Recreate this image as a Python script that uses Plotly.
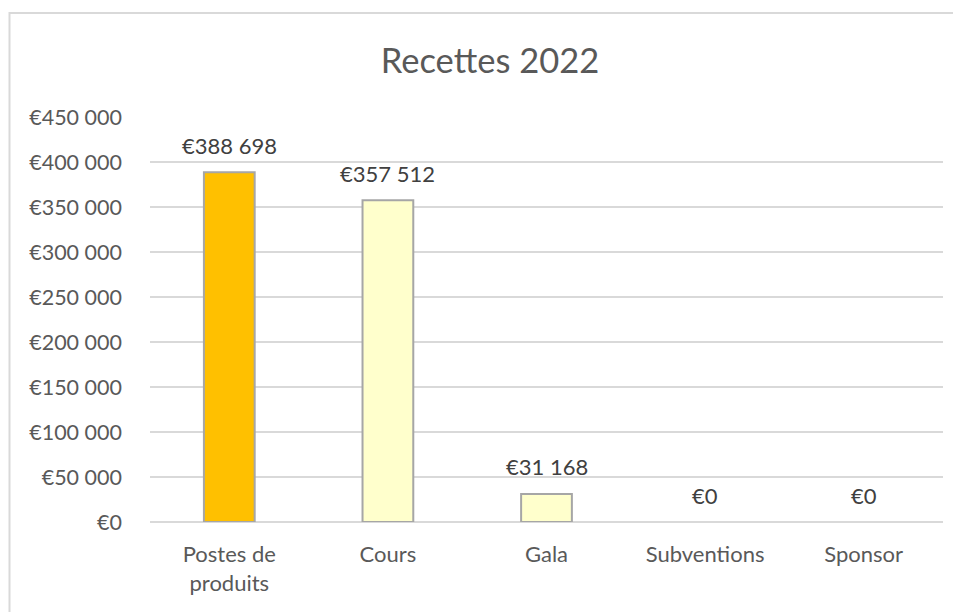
import plotly.graph_objects as go

categories = ["Postes de<br>produits", "Cours", "Gala", "Subventions", "Sponsor"]
values = [388698, 357512, 31168, 0, 0]
bar_colors = ["#FFC000", "#FFFFCC", "#FFFFCC", "#FFFFCC", "#FFFFCC"]
value_labels = ["€388 698", "€357 512", "€31 168", "€0", "€0"]
tick_vals = [0, 50000, 100000, 150000, 200000, 250000, 300000, 350000, 400000, 450000]
tick_text = ["€0", "€50 000", "€100 000", "€150 000", "€200 000", "€250 000",
             "€300 000", "€350 000", "€400 000", "€450 000"]
title_text = "Recettes 2022"

FONT = "Lato"
OFF = 8  # page body margin offset

L, R_EDGE, TOP, AXIS = 150 - OFF, 943 - OFF, 117 - OFF, 522 - OFF
W, H = 961, 612
PW = R_EDGE - L
PH = AXIS - TOP

fig = go.Figure()
fig.add_trace(go.Bar(
    x=categories, y=values,
    marker=dict(color=bar_colors,
                line=dict(color="#A6A6A6", width=[2 if v > 0 else 0 for v in values])),
    hoverinfo="skip",
))

for c, v, t in zip(categories, values, value_labels):
    fig.add_annotation(x=c, y=v, text=t, showarrow=False, yanchor="middle",
                       yshift=27, font=dict(family=FONT, size=22, color="#404040"))

fig.add_shape(type="rect", xref="paper", yref="paper",
              x0=(1.5 - L) / PW, x1=(990 - L) / PW,
              y0=-0.5, y1=(AXIS - (13 - OFF)) / PH,
              line=dict(color="#D9D9D9", width=2), fillcolor="rgba(0,0,0,0)", layer="below")

fig.update_layout(
    width=W, height=H,
    margin=dict(l=L, r=W - R_EDGE, t=TOP, b=H - AXIS, pad=0),
    paper_bgcolor="white", plot_bgcolor="white",
    bargap=0.68,
    showlegend=False,
    title=dict(text=title_text, x=(490 - OFF) / W, xanchor="center", y=1 - (61 - OFF) / H,
               yanchor="middle", font=dict(family=FONT, size=34.5, color="#595959")),
    font=dict(family=FONT),
)
fig.update_yaxes(range=[0, 450000], tickvals=tick_vals, ticktext=tick_text,
                 showgrid=True, gridcolor="#D9D9D9", gridwidth=1.5,
                 zeroline=True, zerolinecolor="#D9D9D9", zerolinewidth=1.5,
                 showline=False, ticks="", ticklabelstandoff=27,
                 tickfont=dict(family=FONT, size=21.5, color="#595959"), fixedrange=True)
fig.update_xaxes(showgrid=False, showline=False, ticks="", ticklabelstandoff=17,
                 tickfont=dict(family=FONT, size=22, color="#595959"), fixedrange=True)

fig.write_html("out.html")
